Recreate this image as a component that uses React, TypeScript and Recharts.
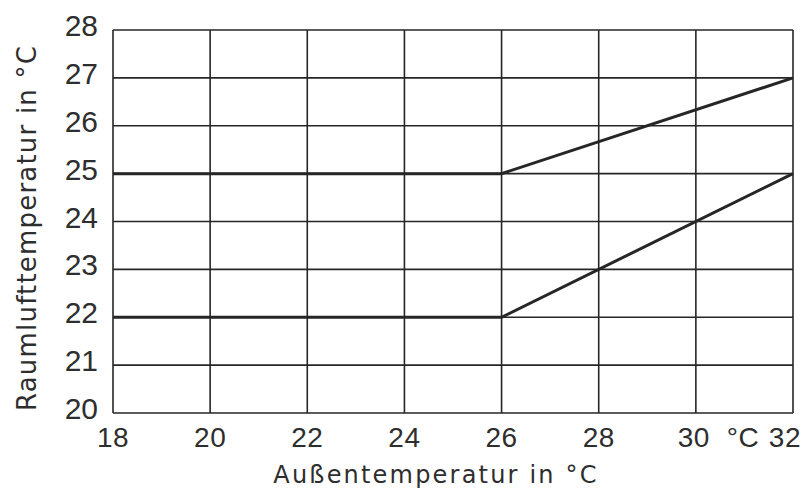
import { LineChart, Line, XAxis, YAxis, CartesianGrid, Label } from 'recharts';

const outsideTemp = [18, 26, 32];
const upperLimit = [25, 25, 27];
const lowerLimit = [22, 22, 25];
const xTicks = [18, 20, 22, 24, 26, 28, 30, 32];
const yTicks = [20, 21, 22, 23, 24, 25, 26, 27, 28];

const data = outsideTemp.map((x, i) => ({ x, upper: upperLimit[i], lower: lowerLimit[i] }));

const FONT = '"Liberation Sans", Arial, sans-serif';
const TITLE_FONT = '"DejaVu Sans", sans-serif';
const TEXT = '#2e2e2e';
const INK = '#262626';

// x ticks: "30 °C" carries the unit, "32" is pulled in so it fits
const XTick = (props: any) => {
  const { x, y, payload } = props;
  const v = payload.value;
  const base = { fontSize: 28, fill: TEXT, fontFamily: FONT, letterSpacing: 0.5 };
  if (v === 30) {
    return (
      <g>
        <text x={x - 2} y={y + 34} textAnchor="middle" {...base}>30</text>
        <text x={x + 31} y={y + 34} textAnchor="start" {...base}>°C</text>
      </g>
    );
  }
  if (v === 32) {
    return <text x={x + 8} y={y + 34} textAnchor="end" {...base}>32</text>;
  }
  return <text x={x} y={y + 34} textAnchor="middle" {...base}>{v}</text>;
};

const YTick = (props: any) => {
  const { x, y, payload } = props;
  return (
    <text x={x} y={y + 6} textAnchor="end" fontSize={30} fill={TEXT} fontFamily={FONT}>{payload.value}</text>
  );
};

export default function App() {
  return (
    <div style={{ position: 'absolute', left: 0, top: 0, background: '#fff' }}>
      <LineChart width={806} height={496} data={data} margin={{ top: 30, right: 13, bottom: 0, left: 0 }}>
        <CartesianGrid stroke={INK} strokeWidth={1.6} />
        <XAxis
          dataKey="x"
          type="number"
          domain={[18, 32]}
          ticks={xTicks}
          height={83}
          axisLine={false}
          tickLine={false}
          tickSize={0}
          tickMargin={0}
          tick={<XTick />}
        >
          <Label
            content={() => (
              <text x={436} y={483} textAnchor="middle" fontSize={24} fill={TEXT} fontFamily={TITLE_FONT} letterSpacing={2.2}>
                Außentemperatur in °C
              </text>
            )}
          />
        </XAxis>
        <YAxis
          type="number"
          domain={[20, 28]}
          ticks={yTicks}
          width={113}
          axisLine={false}
          tickLine={false}
          tickSize={0}
          tickMargin={15}
          tick={<YTick />}
        >
          <Label
            content={() => (
              <text
                x={36}
                y={228}
                transform="rotate(-90 36 228)"
                textAnchor="middle"
                fontSize={26}
                fill={TEXT}
                fontFamily={TITLE_FONT}
                letterSpacing={1.2}
              >
                Raumlufttemperatur in °C
              </text>
            )}
          />
        </YAxis>
        <Line dataKey="upper" stroke={INK} strokeWidth={3} dot={false} isAnimationActive={false} />
        <Line dataKey="lower" stroke={INK} strokeWidth={3} dot={false} isAnimationActive={false} />
      </LineChart>
    </div>
  );
}
